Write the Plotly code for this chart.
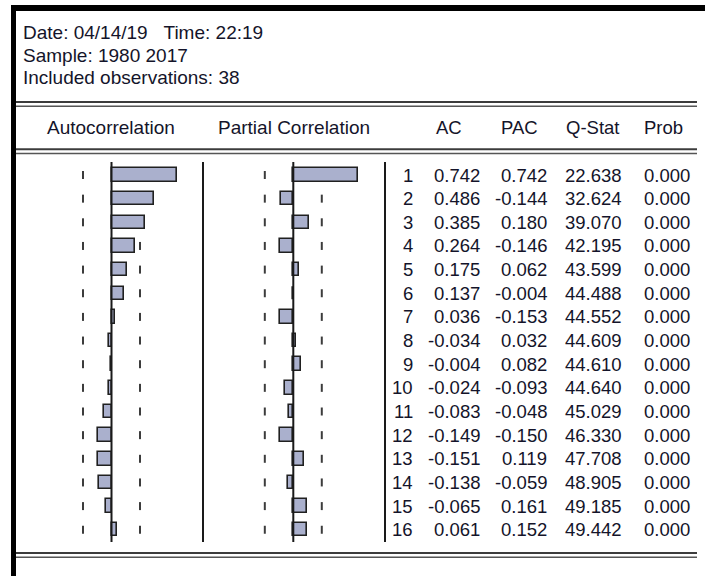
import plotly.graph_objects as go

# Correlogram data (lags 1-16)
lags = list(range(1, 17))
ac = [0.742, 0.486, 0.385, 0.264, 0.175, 0.137, 0.036, -0.034,
      -0.004, -0.024, -0.083, -0.149, -0.151, -0.138, -0.065, 0.061]
pac = [0.742, -0.144, 0.180, -0.146, 0.062, -0.004, -0.153, 0.032,
       0.082, -0.093, -0.048, -0.150, 0.119, -0.059, 0.161, 0.152]
qstat = [22.638, 32.624, 39.070, 42.195, 43.599, 44.488, 44.552, 44.609,
         44.610, 44.640, 45.029, 46.330, 47.708, 48.905, 49.185, 49.442]
prob = [0.000, 0.000, 0.000, 0.000, 0.000, 0.000, 0.000, 0.000,
        0.000, 0.000, 0.000, 0.000, 0.000, 0.000, 0.000, 0.000]
n_obs = 38
header_lines = ["Date: 04/14/19\u00a0\u00a0\u00a0Time: 22:19",
                "Sample: 1980 2017",
                "Included observations: 38"]
col_titles = ["AC", "PAC", "Q-Stat", "Prob"]

# ---- layout geometry (pixels) ----
W, H = 705, 576
ROW1_Y, ROW_STEP = 175.0, 23.65
PX_PER_UNIT = 87.8
AC_LEFT, AC_ZERO, AC_RIGHT = 16, 111.5, 203
PAC_LEFT, PAC_ZERO, PAC_RIGHT = 203, 293.3, 385
FONT = "Arial, Liberation Sans, sans-serif"
TXT = "#14142a"
FS_HEAD = 19
FS_TAB = 18.5

bound = 2 / n_obs ** 0.5
y_top = 1 - ROW1_Y / ROW_STEP
y_bot = 1 + (H - ROW1_Y) / ROW_STEP
line_y0, line_y1 = 0.45, 16.52
dash_half = 4 / ROW_STEP


def xrange_for(left, zero, right):
    return [(left - zero) / PX_PER_UNIT, (right - zero) / PX_PER_UNIT]


fig = go.Figure()

bar_fill = "#aab0cd"
bar_edge = "#202020"
dash_col = "#3c3c3c"

shapes = []
for xa, vals in (("x", ac), ("x2", pac)):
    # significance bounds, kept underneath the bars
    for lag in lags:
        for b in (-bound, bound):
            shapes.append(dict(type="line", xref=xa, yref="y", layer="below",
                               x0=b, x1=b, y0=lag - dash_half, y1=lag + dash_half,
                               line=dict(color=dash_col, width=2)))
    # zero axis
    fig.add_trace(go.Scatter(
        x=[0, 0], y=[line_y0, line_y1], xaxis=xa, yaxis="y", mode="lines",
        line=dict(color="#1a1a1a", width=2), hoverinfo="skip",
        showlegend=False))
    # correlation bars
    fig.add_trace(go.Bar(
        x=vals, y=lags, orientation="h", width=0.57, xaxis=xa, yaxis="y",
        marker=dict(color=bar_fill, line=dict(color=bar_edge, width=1.6)),
        showlegend=False))

# panel separators
for px in (AC_RIGHT, PAC_RIGHT):
    shapes.append(dict(type="line", xref="paper", yref="y",
                       x0=px / W, x1=px / W, y0=line_y0, y1=line_y1,
                       line=dict(color="#1a1a1a", width=2)))
# double rules
for yy in (102, 149.3, 553):
    shapes.append(dict(type="line", xref="paper", yref="paper",
                       x0=16 / W, x1=697 / W, y0=1 - yy / H, y1=1 - yy / H,
                       line=dict(color="#3c3c3c", width=2)))
    shapes.append(dict(type="line", xref="paper", yref="paper",
                       x0=16 / W, x1=697 / W, y0=1 - (yy + 4.3) / H,
                       y1=1 - (yy + 4.3) / H,
                       line=dict(color="#555555", width=1.5)))
# window frame
shapes.append(dict(type="rect", xref="paper", yref="paper",
                   x0=11 / W, x1=1.0, y0=1 - 11 / H, y1=1 - 5 / H,
                   fillcolor="black", line=dict(width=0)))
shapes.append(dict(type="rect", xref="paper", yref="paper",
                   x0=11 / W, x1=16 / W, y0=0, y1=1 - 5 / H,
                   fillcolor="black", line=dict(width=0)))

ann = []


def label(text, xpx, ypx=None, yval=None, anchor="left", size=FS_TAB):
    d = dict(text=text, x=xpx / W, xref="paper", xanchor=anchor,
             yanchor="middle", showarrow=False, borderpad=0,
             font=dict(family=FONT, size=size, color=TXT))
    if yval is None:
        d.update(y=1 - ypx / H, yref="paper")
    else:
        d.update(y=yval, yref="y")
    ann.append(d)


for i, t in enumerate(header_lines):
    label(t, 22, ypx=32 + i * 23, size=FS_HEAD)

label("Autocorrelation", 111, ypx=127, anchor="center", size=FS_HEAD)
label("Partial Correlation", 294, ypx=127, anchor="center", size=FS_HEAD)
for t, xp in zip(col_titles, (435, 500, 565, 643)):
    label(t, xp, ypx=127)

for i, lag in enumerate(lags):
    label(str(lag), 414, yval=lag, anchor="right")
    label(f"{ac[i]:.3f}", 481, yval=lag, anchor="right")
    label(f"{pac[i]:.3f}", 548, yval=lag, anchor="right")
    label(f"{qstat[i]:.3f}", 623, yval=lag, anchor="right")
    label(f"{prob[i]:.3f}", 691, yval=lag, anchor="right")

hidden = dict(visible=False, showgrid=False, zeroline=False, fixedrange=True)
fig.update_layout(
    width=W, height=H, autosize=False,
    margin=dict(l=0, r=0, t=0, b=0, pad=0),
    paper_bgcolor="white", plot_bgcolor="rgba(0,0,0,0)",
    xaxis=dict(domain=[AC_LEFT / W, AC_RIGHT / W],
               range=xrange_for(AC_LEFT, AC_ZERO, AC_RIGHT), anchor="y", **hidden),
    xaxis2=dict(domain=[PAC_LEFT / W, PAC_RIGHT / W],
                range=xrange_for(PAC_LEFT, PAC_ZERO, PAC_RIGHT), anchor="y", **hidden),
    yaxis=dict(domain=[0, 1], range=[y_bot, y_top], **hidden),
    shapes=shapes, annotations=ann, bargap=0,
)

fig.write_html("out.html", config={"displayModeBar": False})
